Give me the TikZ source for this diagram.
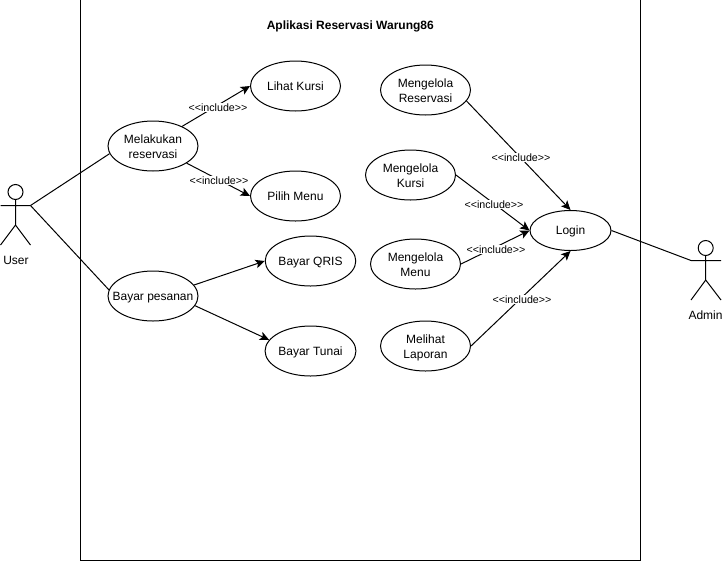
\documentclass[tikz,border=0pt]{standalone}
\usepackage{fontspec}
\setmainfont{Liberation Sans}
\usetikzlibrary{shapes.geometric,arrows.meta}
\newcommand\uctext[1]{\raisebox{0pt}[\dimexpr\height+1.8pt\relax][\depth]{\begin{tabular}{@{}c@{}}#1\end{tabular}}}
\newcommand\uctwo[1]{\raisebox{0pt}[\dimexpr\height+3.6pt\relax][\depth]{\begin{tabular}{@{}c@{}}#1\end{tabular}}}
\tikzset{
  x=0.75pt,y=-0.75pt,
  usecase/.style={draw=black,fill=white,ellipse,line width=0.75pt,minimum width=67.5pt,minimum height=37.5pt,inner sep=0pt,align=center,font=\fontsize{9}{11.25}\selectfont},
  loginuc/.style={usecase,minimum width=60.75pt,minimum height=30pt},
  frame/.style={draw=black,line width=0.75pt,rectangle,minimum width=420pt,minimum height=420.2pt,inner sep=0pt},
  assoc/.style={draw=black,line width=0.75pt},
  dep/.style={draw=black,line width=0.75pt,-{Stealth[length=7pt,width=6.5pt,inset=1.6pt]}},
  inc/.style={fill=white,inner sep=0.4pt,font=\fontsize{8}{9}\selectfont},
  actorlabel/.style={inner sep=0pt,font=\fontsize{9}{11}\selectfont},
  stick/.style={draw=black,line width=0.75pt},
  titlelabel/.style={inner sep=0pt,font=\bfseries\fontsize{9}{11}\selectfont},
}
\begin{document}
\begin{tikzpicture}
\useasboundingbox (0,0) rectangle (723,561);
\node[frame] (sys) at (360.5,280) {};
\node[titlelabel] (title) at (350.3,26) {Aplikasi Reservasi Warung86};
% use cases
\node[usecase] (mel) at (153,146) {\uctwo{Melakukan\\reservasi}};
\node[usecase] (lih) at (295.5,86) {\uctext{Lihat Kursi}};
\node[usecase] (pil) at (295.5,196) {\uctext{Pilih Menu}};
\node[usecase] (bay) at (153,296) {\makebox[0pt]{\uctext{Bayar pesanan}}};
\node[usecase] (qri) at (310.5,261) {\uctext{Bayar QRIS}};
\node[usecase] (tun) at (310.5,351) {\uctext{Bayar Tunai}};
\node[usecase] (res) at (425.5,90) {\uctwo{Mengelola\\Reservasi}};
\node[usecase] (kur) at (410.5,175) {\uctwo{Mengelola\\Kursi}};
\node[usecase] (men) at (415.5,264) {\uctwo{Mengelola\\Menu}};
\node[usecase] (lap) at (425.5,346) {\uctwo{Melihat\\Laporan}};
\node[loginuc] (log) at (570.5,230.5) {\uctext{Login}};
% actor User
\draw[stick] (15.5,192) circle (7.5);
\coordinate (uh) at (15.5,199.5);
\coordinate (ub) at (15.5,225);
\coordinate (ul) at (0.5,205.5);
\coordinate (ur) at (30.5,205.5);
\coordinate (uf1) at (0.5,245);
\coordinate (uf2) at (30.5,245);
\draw[stick] (uh) -- (ub) (ul) -- (ur) (uf1) -- (ub) -- (uf2);
\node[actorlabel] (userl) at (16,260) {User};
% actor Admin
\draw[stick] (705.7,248) circle (7.5);
\coordinate (ah) at (705.7,255.5);
\coordinate (ab) at (705.7,280);
\coordinate (al) at (691,260.5);
\coordinate (ar) at (721,260.5);
\coordinate (af1) at (691,300);
\coordinate (af2) at (721,300);
\draw[stick] (ah) -- (ab) (al) -- (ar) (af1) -- (ab) -- (af2);
\node[actorlabel] (adminl) at (705.5,315) {Admin};
% associations
\draw[assoc] (ur) -- (mel.190);
\draw[assoc] (ur) -- (bay.172);
\draw[assoc] (log.east) -- (al);
% includes
\draw[dep] (mel.34) -- (lih.west);
\draw[dep] (mel.-27) -- (pil.west);
\draw[dep] (bay.15) -- (qri.west);
\draw[dep] (bay.-13) -- (tun.165);
\draw[dep] (res.-15) -- (log.north);
\draw[dep] (kur.east) -- (log.west);
\draw[dep] (men.east) -- (log.west);
\draw[dep] (lap.east) -- (log.south);
\node[inc] (i1) at (218,107.7) {<{}<include>{}>};
\node[inc] (i2) at (219,180.7) {<{}<include>{}>};
\node[inc] (i3) at (521,157.7) {<{}<include>{}>};
\node[inc] (i4) at (494,204.7) {<{}<include>{}>};
\node[inc] (i5) at (496,249.7) {<{}<include>{}>};
\node[inc] (i6) at (522,299.7) {<{}<include>{}>};
\end{tikzpicture}
\end{document}
